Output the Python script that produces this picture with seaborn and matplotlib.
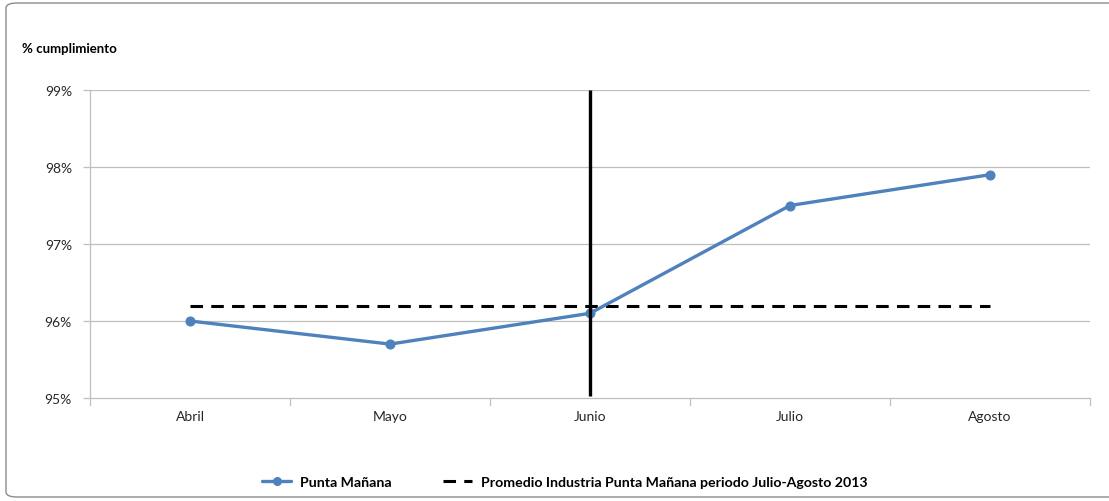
import matplotlib
matplotlib.use("Agg")
import matplotlib.pyplot as plt
from matplotlib.patches import FancyBboxPatch
from matplotlib.lines import Line2D
import seaborn as sns
import pandas as pd

months = ["Abril", "Mayo", "Junio", "Julio", "Agosto"]
cumplimiento = [96.0, 95.7, 96.1, 97.5, 97.9]
promedio_industria = 96.2
yticks = [95, 96, 97, 98, 99]
serie_label = "Punta Mañana"
promedio_label = "Promedio Industria Punta Mañana periodo Julio-Agosto 2013"
marker_month = "Junio"

sns.set_style("white")
plt.rcParams["font.family"] = ["Lato", "DejaVu Sans"]

blue = "#4F81BD"
grid_gray = "#BFBFBF"
text_col = "#262626"
dash = (0, (4.1, 2.7))

fig = plt.figure(figsize=(11.09, 5.02), dpi=100)
ax = fig.add_axes([90 / 1109, 1 - 399 / 502, 1000 / 1109, 308 / 502])

df = pd.DataFrame({"mes": months, "valor": cumplimiento})
df["pos"] = range(len(months))

sns.lineplot(data=df, x="pos", y="valor", ax=ax, color=blue, linewidth=2.4,
             marker="o", markersize=6.5, markeredgecolor=blue, zorder=4)

ax.hlines(promedio_industria, 0, len(months) - 1, colors="black",
          linestyles=dash, linewidth=2.2, zorder=3)

jx = months.index(marker_month)
ax.vlines(jx, yticks[0] + 0.03, yticks[-1], colors="black", linewidth=2.4, zorder=5)

ax.set_xlim(-0.5, len(months) - 0.5)
ax.set_ylim(yticks[0], yticks[-1])
ax.set_yticks(yticks)
ax.set_yticklabels([f"{t}%" for t in yticks], fontsize=10, color=text_col)
ax.set_xticks(range(len(months)))
ax.set_xticklabels(months, fontsize=10, color=text_col)
ax.tick_params(axis="x", length=0, pad=9)
ax.tick_params(axis="y", length=5, width=0.9, color=grid_gray, direction="out", pad=8, left=True)
# category boundary ticks below the axis
for b in [i - 0.5 for i in range(len(months) + 1)]:
    ax.plot([b, b], [0, -0.022], transform=ax.get_xaxis_transform(),
            color=grid_gray, linewidth=0.9, clip_on=False)
ax.set_xlabel("")
ax.set_ylabel("")

for t in yticks[1:]:
    ax.axhline(t, color=grid_gray, linewidth=0.9, zorder=1)

for side in ["top", "right"]:
    ax.spines[side].set_visible(False)
for side in ["left", "bottom"]:
    ax.spines[side].set_color(grid_gray)
    ax.spines[side].set_linewidth(0.9)

fig.text(22 / 1109, 1 - 49 / 502, "% cumplimiento", fontsize=9.5, fontweight="bold",
         color="black", va="center", ha="left")

handles = [
    Line2D([0], [0], color=blue, linewidth=2.4, marker="o", markersize=5.5),
    Line2D([0], [0], color="black", linewidth=2.2, linestyle=dash),
]
leg = fig.legend(handles, [serie_label, promedio_label], loc="center",
                 bbox_to_anchor=(0.5 + 10 / 1109, 1 - 483 / 502), ncol=2, frameon=False,
                 fontsize=10.2, handlelength=2.1, columnspacing=3.6, handletextpad=0.6)
for t in leg.get_texts():
    t.set_fontweight("bold")
    t.set_color("black")

frame = FancyBboxPatch((6 / 1109, 4 / 502), 1120 / 1109, 494 / 502,
                       boxstyle="round,pad=0,rounding_size=0.01",
                       transform=fig.transFigure, facecolor="none",
                       edgecolor="#8C8C8C", linewidth=1.0, clip_on=False)
fig.patches.append(frame)

fig.savefig("out.png", dpi=100, facecolor="white")
